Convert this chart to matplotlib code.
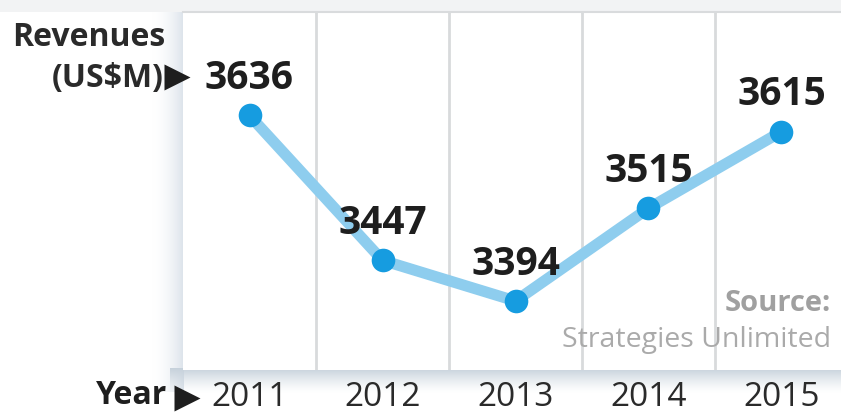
import matplotlib.pyplot as plt
from matplotlib.patches import Rectangle
import numpy as np

# Données
years = ["2011", "2012", "2013", "2014", "2015"]
revenues = [3636, 3447, 3394, 3515, 3615]

FONT = "Open Sans"
W, H = 841, 415
fig = plt.figure(figsize=(W / 100, H / 100), dpi=100)
fig.patch.set_facecolor("white")


def degrade(couleur, n, axe, p=1.5):
    # tableau RGBA dont l'alpha va de 0 à 1 suivant l'axe choisi
    rgba = np.zeros((n, n, 4))
    rgba[..., :3] = np.array(couleur)
    ramp = np.linspace(0, 1, n) ** p
    rgba[..., 3] = ramp[None, :] if axe == "x" else ramp[:, None]
    return rgba


# ombre du panneau (gauche et bas)
bg = fig.add_axes([0, 0, 1, 1], zorder=0)
bg.axis("off")
bg.add_patch(Rectangle((0, 0), W, 12, color="#f2f3f4", lw=0))
bg.imshow(degrade((0.86, 0.89, 0.92), 64, "x", 2.0), extent=(150, 184, 392, 8),
          aspect="auto", interpolation="bilinear")
bg.imshow(degrade((0.78, 0.82, 0.86), 64, "y", 1.3)[::-1], extent=(170, W, 393, 369),
          aspect="auto", interpolation="bilinear")
bg.set_xlim(0, W)
bg.set_ylim(H, 0)

# panneau principal
left, right, top, bottom = 183, 848, 12, 370
ax = fig.add_axes([left / W, 1 - bottom / H, (right - left) / W, (bottom - top) / H], zorder=1)
ax.set_facecolor("white")
x = np.arange(len(years))
ax.set_xlim(-0.5, len(years) - 0.5)
ax.set_ylim(3304, 3771)
for s in ax.spines.values():
    s.set_visible(False)
ax.spines["top"].set_visible(True)
ax.spines["top"].set_color("#d9dbdd")
ax.spines["top"].set_linewidth(1.5)
for xv in x[:-1] + 0.5:
    ax.axvline(xv, color="#d8dadc", lw=2, zorder=1)
ax.set_xticks([])
ax.set_yticks([])

ax.plot(x, revenues, color="#8ecdee", lw=8, solid_capstyle="round", zorder=2)
ax.plot(x, revenues, "o", color="#169ce0", ms=17, mec="none", zorder=3)

for xi, v in zip(x, revenues):
    ax.annotate(str(v), (xi, v), xytext=(0, 26.5), textcoords="offset points",
                ha="center", va="center", fontsize=28, fontweight="bold",
                fontfamily=FONT, color="#1e1e1e", zorder=4)

ax.text(0.975, 0.185, "Source:", transform=ax.transAxes, ha="right", va="center",
        fontsize=21, fontweight="bold", fontfamily=FONT, color="#a0a0a0")
ax.text(0.975, 0.085, "Strategies Unlimited", transform=ax.transAxes, ha="right",
        va="center", fontsize=20.5, fontfamily=FONT, color="#aaaaaa")

# étiquettes des années
for xi, yr in zip(x, years):
    px = left + (xi + 0.5) / len(years) * (right - left)
    fig.text(px / W, 1 - 397 / H, yr, ha="center", va="center",
             fontsize=24, fontfamily=FONT, color="#2a2a2a")
fig.text(167 / W, 1 - 395 / H, "Year", ha="right", va="center",
         fontsize=23, fontweight="bold", fontfamily=FONT, color="#1e1e1e")

fig.text(165 / W, 1 - 37 / H, "Revenues", ha="right", va="center",
         fontsize=23, fontweight="bold", fontfamily=FONT, color="#2a2a2a")
fig.text(164 / W, 1 - 78 / H, "(US$M)", ha="right", va="center",
         fontsize=23, fontweight="bold", fontfamily=FONT, color="#2a2a2a")

# flèches ▶ par-dessus le panneau
fg = fig.add_axes([0, 0, 1, 1], zorder=5)
fg.axis("off")
fg.patch.set_alpha(0)
fg.plot([177, 187], [77, 398], marker=">", ls="none", ms=19, color="#1e1e1e", mec="none")
fg.set_xlim(0, W)
fg.set_ylim(H, 0)

fig.savefig("out.png", dpi=100)
